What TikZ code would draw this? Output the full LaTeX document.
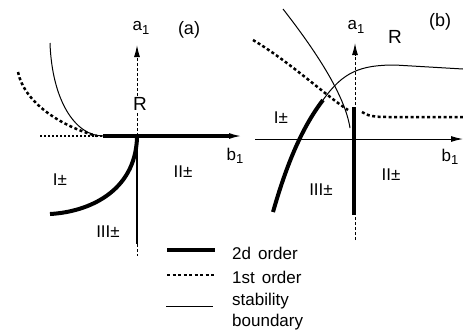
\documentclass[tikz,border=0pt]{standalone}
\usepackage{fontspec}
\setmainfont{Liberation Sans}
\usetikzlibrary{arrows.meta}
\newcommand{\sub}[1]{\raisebox{-3.5pt}{\fontsize{13}{13}\selectfont #1}}
\begin{document}
\begin{tikzpicture}[x=1pt,y=-1pt,
  lbl/.style={inner sep=0pt,font=\fontsize{17}{19}\selectfont},
  panel/.style={inner sep=0pt,font=\fontsize{18}{20}\selectfont},
  big/.style={inner sep=1.5pt,fill=white,font=\fontsize{19}{22}\selectfont},
  axisdash/.style={line width=1pt,dash pattern=on 3pt off 2pt},
  secondorder/.style={line width=4pt},
  firstorder/.style={line width=2.5pt,dash pattern=on 3pt off 2.5pt},
  stab/.style={line width=1pt},
  tip/.style={-{Latex[length=12pt,width=6pt]}}
]
\useasboundingbox (0,0) rectangle (463,333);
% ---------- panel (a) ----------
\coordinate (aO) at (137,136);
\coordinate (aTop) at (137,45);
\coordinate (aLeft) at (40,136);
\coordinate (aK) at (103,136);
\coordinate (aRight) at (241,136);
\coordinate (aBot) at (137,244);
\coordinate (aBotEnd) at (137,256);
\draw[axisdash,tip] (aO) -- (aTop);
\draw[line width=1.5pt,dash pattern=on 2pt off 2pt] (aLeft) -- (aK);
\draw[secondorder] (aK) -- (230,136);
\draw[line width=1.5pt,tip] (228,136) -- (aRight);
\draw[line width=2.5pt] (aO) -- (aBot);
\draw[axisdash] (aBot) -- (aBotEnd);
\draw[stab] (50,43) .. controls (52,100) and (75,136) .. (aK);
\draw[firstorder] (18,72) .. controls (24,102) and (60,126) .. (97,136);
\draw[secondorder] (137,138) .. controls (135,192) and (88,212) .. (50,214);
\node[lbl] (aa1) at (141,28) {a\sub{1}};
\node[panel] (alab) at (189,30) {(a)};
\node[big] (aR) at (140,104) {R};
\node[lbl] (ab1) at (235,156) {b\sub{1}};
\node[lbl] (aI) at (60,180) {I±};
\node[lbl] (aII) at (183,172) {II±};
\node[lbl] (aIII) at (108,232) {III±};
% ---------- panel (b) ----------
\coordinate (bLeft) at (255,139);
\coordinate (bRight) at (463,139);
\coordinate (bBot) at (355,240);
\coordinate (bTop) at (355,43);
\draw[stab,tip] (bLeft) -- (bRight);
\draw[axisdash,tip] (bBot) -- (bTop);
\draw[secondorder] (354,107) -- (354,215);
\draw[stab] (283,9) .. controls (315,50) and (345,95) .. (350,128);
\draw[stab] (323,100) .. controls (343,72) and (360,65) .. (395,65) -- (463,69);
\draw[secondorder] (273,212) .. controls (285,170) and (300,130) .. (323,100);
\draw[firstorder] (253,40) .. controls (290,62) and (325,95) .. (348,110);
\draw[firstorder] (362,112) .. controls (368,116) and (374,117) .. (388,117) -- (463,117);
\node[lbl] (ba1) at (356,27) {a\sub{1}};
\node[big,fill=none] (bR) at (395,37) {R};
\node[panel] (blab) at (440,22) {(b)};
\node[lbl] (bb1) at (450,157) {b\sub{1}};
\node[lbl] (bI) at (281,118) {I±};
\node[lbl] (bII) at (391,175) {II±};
\node[lbl] (bIII) at (321,190) {III±};
% ---------- legend ----------
\draw[secondorder] (167,250) -- (215,250);
\draw[line width=2pt,dash pattern=on 3pt off 2.5pt] (167,275) -- (214,275);
\draw[stab] (166,306) -- (213,306);
\node[lbl,anchor=west] (l1) at (232,253) {2d\hspace{7pt}order};
\node[lbl,anchor=west] (l2) at (232,277) {1st\hspace{7pt}order};
\node[lbl,anchor=west] (l3) at (232,301) {stability};
\node[lbl,anchor=west] (l4) at (232,322) {boundary};
\end{tikzpicture}
\end{document}
